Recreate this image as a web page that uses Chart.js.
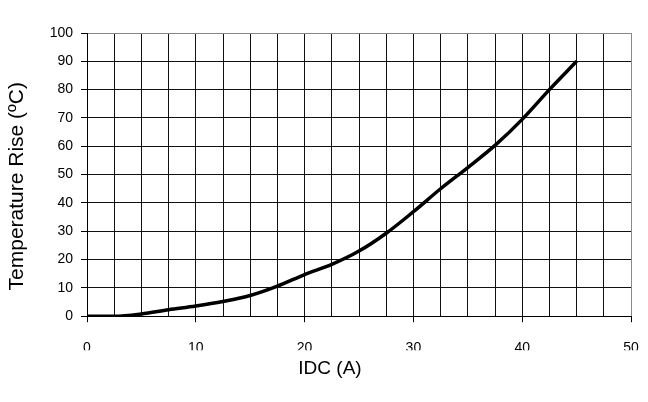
<!DOCTYPE html>
<html>
<head>
<meta charset="utf-8">
<script src="https://cdn.jsdelivr.net/npm/chart.js@4"></script>
<style>
  body { margin: 0; background: #fff; }
  #wrap { width: 648px; height: 402px; }
</style>
</head>
<body>
<div id="wrap"><canvas id="tempChart"></canvas></div>
<script>
// current (A) vs temperature rise (C)
const currentA = [0, 2.5, 5, 7.5, 10, 12.5, 15, 17.5, 20, 22.5, 25, 27.5, 30, 32.5, 35, 37.5, 40, 42.5, 45];
const tempRise = [0, 0, 0.8, 2.3, 3.6, 5.2, 7.3, 10.6, 14.7, 18.3, 23, 29.3, 36.9, 45, 52.5, 60.3, 69.5, 80, 90];

const xTickLabels = [0, 10, 20, 30, 40, 50];
const yTickLabels = [0, 10, 20, 30, 40, 50, 60, 70, 80, 90, 100];

const fontFamily = "'Liberation Sans', Arial, sans-serif";

const points = currentA.map((a, i) => ({ x: a, y: tempRise[i] }));

const ctx = document.getElementById("tempChart");

new Chart(ctx, {
  type: "scatter",
  data: {
    datasets: [
      {
        label: "Temperature Rise",
        data: points,
        showLine: true,
        borderColor: "#000",
        borderWidth: 3.5,
        pointRadius: 0,
        cubicInterpolationMode: "monotone",
      },
    ],
  },
  options: {
    responsive: true,
    maintainAspectRatio: false,
    animation: false,
    layout: {
      padding: { left: 22, right: 10, top: 33, bottom: 0 },
    },
    scales: {
      x: {
        type: "linear",
        min: 0,
        max: 50,
        afterFit: (scale) => {
          scale.height = 34;
          // keep the plot reaching close to the right edge
          scale.paddingRight = 17;
        },
        ticks: {
          stepSize: 2.5,
          autoSkip: false,
          maxRotation: 0,
          padding: 18,
          color: "#000",
          font: { family: fontFamily, size: 14 },
          callback: (v) => (xTickLabels.includes(v) ? v : ""),
        },
        grid: {
          color: (c) => (c.tick && c.tick.value === 50 ? "#888" : "#111"),
          tickColor: (c) =>
            c.tick && xTickLabels.includes(c.tick.value) ? "#000" : "rgba(0,0,0,0)",
          tickLength: 6,
          lineWidth: 1,
        },
        border: { color: "#000" },
      },
      y: {
        min: 0,
        max: 100,
        afterFit: (scale) => {
          scale.width = 65;
        },
        ticks: {
          stepSize: 10,
          padding: 8,
          color: "#000",
          font: { family: fontFamily, size: 14 },
          callback: (v) => (yTickLabels.includes(v) ? v : ""),
        },
        grid: {
          color: (c) => (c.tick && c.tick.value === 100 ? "#888" : "#111"),
          tickColor: "#000",
          tickLength: 6,
          lineWidth: 1,
        },
        border: { color: "#000" },
        title: {
          display: true,
          text: "Temperature Rise (ºC)\u00a0\u00a0\u00a0\u00a0",
          color: "#000",
          padding: { top: -15, bottom: 0 },
          font: { family: fontFamily, size: 21, lineHeight: 1 },
        },
      },
    },
    plugins: {
      legend: { display: false },
      tooltip: { enabled: false },
      title: {
        display: true,
        position: "bottom",
        text: "IDC (A)",
        color: "#000",
        font: { family: fontFamily, size: 19, weight: "normal", lineHeight: 1.2 },
        padding: { top: 7, bottom: 22 },
      },
    },
  },
});
</script>
</body>
</html>
